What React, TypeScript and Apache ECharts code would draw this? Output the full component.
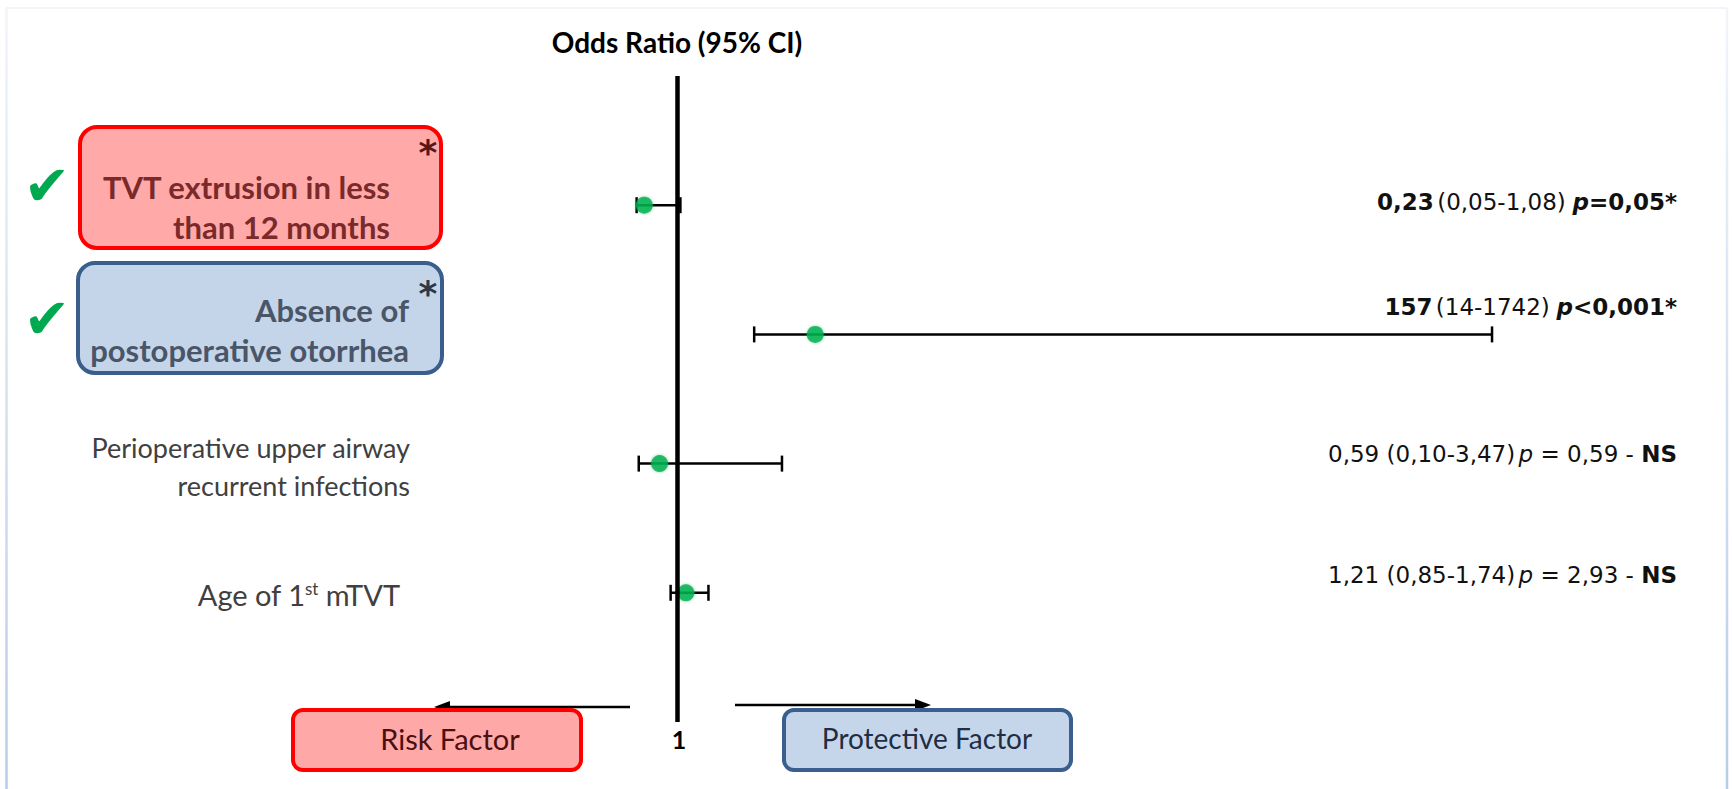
import { useEffect, useRef } from "react";
import * as echarts from "echarts";

// Forest plot data: odds ratios with 95% confidence intervals
const factors = [
  "TVT extrusion in less than 12 months",
  "Absence of postoperative otorrhea",
  "Perioperative upper airway recurrent infections",
  "Age of 1st mTVT",
];
const oddsRatio = [0.23, 157, 0.59, 1.21];
const ciLower = [0.05, 14, 0.1, 0.85];
const ciUpper = [1.08, 1742, 3.47, 1.74];
const pText = ["=0,05", "<0,001", "= 0,59", "= 2,93"];
const significant = [true, true, false, false];
const directionLabels = ["Risk Factor", "Protective Factor"];
const axisTitle = "Odds Ratio (95% CI)";
const nullValue = 1;

// Layout
const W = 1732;
const H = 789;
const FONT = 'Lato, "Open Sans", "Noto Sans", sans-serif';
const STATS_FONT = '"DejaVu Sans", Verdana, sans-serif';
const STATS_SIZE = 23;
const gridLeft = 600;
const gridWidth = 920;
const gridTop = 76;
const gridHeight = 646;
const nullX = 677;
// narrow scale (rows with small ratios)
const pxPerUnit = 42.5;
// stretched scale for rows whose interval runs into the thousands
const pxPerUnitWide = 0.427;
const wideZeroX = 748.2;
const statsRight = 1677;
const statsY = [202, 307, 454, 575];

const fmt = (v: number) => (v >= 10 ? String(v) : v.toFixed(2).replace(".", ","));

const rowIdx = factors.map((_, i) => i);
const isWide = (i: number) => ciUpper[i] > 100;
const narrowRows = rowIdx.filter((i) => !isWide(i));
const wideRows = rowIdx.filter((i) => isWide(i));

const statsText = (i: number) => {
  const or = fmt(oddsRatio[i]);
  const ci = `(${fmt(ciLower[i])}-${fmt(ciUpper[i])})`;
  if (significant[i]) return `{b|${or}} {r|${ci}}  {bi|p}{b|${pText[i]}*}`;
  return `{r|${or} ${ci}} {i|p}{r| ${pText[i]} - }{b|NS}`;
};

const renderCI = (_params: any, api: any) => {
  const lo = api.coord([api.value(0), api.value(1)]);
  const hi = api.coord([api.value(2), api.value(1)]);
  const style = { stroke: "#000", lineWidth: 2.5 };
  const cap = 8;
  return {
    type: "group",
    children: [
      { type: "line", shape: { x1: lo[0], y1: lo[1], x2: hi[0], y2: hi[1] }, style },
      { type: "line", shape: { x1: lo[0], y1: lo[1] - cap, x2: lo[0], y2: lo[1] + cap }, style },
      { type: "line", shape: { x1: hi[0], y1: hi[1] - cap, x2: hi[0], y2: hi[1] + cap }, style },
    ],
  };
};

const dotStyle = {
  color: "#00B050",
  shadowBlur: 3,
  shadowColor: "rgba(0,176,80,0.6)",
};

const statsRich = {
  b: { fontFamily: STATS_FONT, fontSize: STATS_SIZE, fontWeight: "bold", fill: "#111" },
  bi: { fontFamily: STATS_FONT, fontSize: STATS_SIZE, fontWeight: "bold", fontStyle: "italic", fill: "#111" },
  i: { fontFamily: STATS_FONT, fontSize: STATS_SIZE, fontStyle: "italic", fill: "#111" },
  r: { fontFamily: STATS_FONT, fontSize: STATS_SIZE, fill: "#111" },
};

const edgeGradient = (x: number) =>
  new echarts.graphic.LinearGradient(
    x, 8, x, H,
    [
      { offset: 0, color: "#F1F5FA" },
      { offset: 1, color: "#B7CCE8" },
    ],
    true
  );

function buildGraphic() {
  const els: any[] = [];
  // panel edges
  els.push({ type: "line", shape: { x1: 6, y1: 8, x2: 1727, y2: 8 }, style: { stroke: "#F1F5FA", lineWidth: 2 } });
  els.push({ type: "line", shape: { x1: 6.5, y1: 8, x2: 6.5, y2: H }, style: { stroke: edgeGradient(6.5), lineWidth: 2.5 } });
  els.push({ type: "line", shape: { x1: 1727, y1: 8, x2: 1727, y2: H }, style: { stroke: edgeGradient(1727), lineWidth: 2.5 } });

  // title
  els.push({
    type: "text", x: nullX, y: 42,
    style: { text: axisTitle, align: "center", verticalAlign: "middle", fontFamily: FONT, fontSize: 28, fontWeight: "bold", fill: "#000" },
  });

  // direction arrows
  els.push({ type: "line", shape: { x1: 630, y1: 707, x2: 446, y2: 707 }, style: { stroke: "#000", lineWidth: 2.5 } });
  els.push({ type: "polygon", shape: { points: [[434, 707], [450, 701], [450, 713]] }, style: { fill: "#000" } });
  els.push({ type: "line", shape: { x1: 735, y1: 705, x2: 919, y2: 705 }, style: { stroke: "#000", lineWidth: 2.5 } });
  els.push({ type: "polygon", shape: { points: [[931, 705], [915, 699], [915, 711]] }, style: { fill: "#000" } });

  // direction boxes
  els.push({ type: "rect", shape: { x: 293, y: 710, width: 288, height: 60, r: 10 }, style: { fill: "#FFA8A8", stroke: "#FF0000", lineWidth: 4 } });
  els.push({
    type: "text", x: 450, y: 738,
    style: { text: directionLabels[0], align: "center", verticalAlign: "middle", fontFamily: FONT, fontSize: 29, fill: "#4A0F0F" },
  });
  els.push({ type: "rect", shape: { x: 784, y: 710, width: 287, height: 60, r: 10 }, style: { fill: "#C5D6EB", stroke: "#3A5F8F", lineWidth: 4 } });
  els.push({
    type: "text", x: 927, y: 738,
    style: { text: directionLabels[1], align: "center", verticalAlign: "middle", fontFamily: FONT, fontSize: 28, fill: "#1F2E44" },
  });
  els.push({
    type: "text", x: 679, y: 739,
    style: { text: String(nullValue), align: "center", verticalAlign: "middle", fontFamily: FONT, fontSize: 25, fontWeight: "bold", fill: "#000" },
  });

  // highlighted factor boxes
  els.push({ type: "rect", shape: { x: 80, y: 127, width: 361, height: 121, r: 17 }, style: { fill: "#FFA9A9", stroke: "#FF0000", lineWidth: 4 } });
  els.push({ type: "rect", shape: { x: 78, y: 263, width: 364, height: 110, r: 17 }, style: { fill: "#C4D5EA", stroke: "#3A5E8C", lineWidth: 4 } });

  const boxLines = [
    { lines: ["TVT extrusion in less", "than 12 months"], right: 390, ys: [187, 227], fill: "#7A2A2A" },
    { lines: ["Absence of", "postoperative otorrhea"], right: 409, ys: [310, 350], fill: "#4A5567" },
  ];
  boxLines.forEach((b) =>
    b.lines.forEach((t, k) =>
      els.push({
        type: "text", x: b.right, y: b.ys[k],
        style: { text: t, align: "right", verticalAlign: "middle", fontFamily: FONT, fontSize: 31, fontWeight: "bold", fill: b.fill },
      })
    )
  );
  // asterisks
  els.push({ type: "text", x: 428, y: 152, style: { text: "*", align: "center", verticalAlign: "middle", fontFamily: '"DejaVu Sans"', fontSize: 36, fontWeight: "bold", fill: "#5A1616" } });
  els.push({ type: "text", x: 428, y: 293, style: { text: "*", align: "center", verticalAlign: "middle", fontFamily: '"DejaVu Sans"', fontSize: 36, fontWeight: "bold", fill: "#2C3848" } });
  // check marks
  [185, 318].forEach((y) =>
    els.push({ type: "text", x: 47, y, style: { text: "\u2714", align: "center", verticalAlign: "middle", fontFamily: '"DejaVu Sans"', fontSize: 56, fill: "#00A94F" } })
  );

  // plain factor labels
  els.push({ type: "text", x: 410, y: 447, style: { text: "Perioperative upper airway", align: "right", verticalAlign: "middle", fontFamily: FONT, fontSize: 27, fill: "#404040" } });
  els.push({ type: "text", x: 410, y: 485, style: { text: "recurrent infections", align: "right", verticalAlign: "middle", fontFamily: FONT, fontSize: 27, fill: "#404040" } });
  els.push({
    type: "text", x: 400, y: 594,
    style: {
      text: "{n|Age of 1}{s|st}{n| mTVT}",
      align: "right", verticalAlign: "middle",
      rich: {
        n: { fontFamily: FONT, fontSize: 29, fill: "#404040" },
        s: { fontFamily: FONT, fontSize: 17, fill: "#404040", verticalAlign: "top" },
      },
    },
  });

  // statistics column
  rowIdx.forEach((i) =>
    els.push({
      type: "text", x: statsRight, y: statsY[i],
      style: { text: statsText(i), align: "right", verticalAlign: "middle", rich: statsRich },
    })
  );
  return els;
}

const option = {
  animation: false,
  backgroundColor: "#fff",
  grid: { left: gridLeft, top: gridTop, width: gridWidth, height: gridHeight, containLabel: false },
  xAxis: [
    {
      type: "value",
      min: nullValue - (nullX - gridLeft) / pxPerUnit,
      max: nullValue - (nullX - gridLeft) / pxPerUnit + gridWidth / pxPerUnit,
      show: false,
    },
    {
      type: "value",
      min: (gridLeft - wideZeroX) / pxPerUnitWide,
      max: (gridLeft + gridWidth - wideZeroX) / pxPerUnitWide,
      show: false,
    },
  ],
  yAxis: { type: "value", min: -1, max: factors.length, inverse: true, show: false },
  series: [
    {
      type: "custom",
      xAxisIndex: 0,
      renderItem: renderCI,
      encode: { x: [0, 2], y: 1 },
      data: narrowRows.map((i) => [ciLower[i], i, ciUpper[i]]),
      z: 2,
      markLine: {
        silent: true,
        symbol: "none",
        label: { show: false },
        lineStyle: { color: "#000", width: 4.5, type: "solid" },
        data: [{ xAxis: nullValue }],
      },
    },
    {
      type: "custom",
      xAxisIndex: 1,
      renderItem: renderCI,
      encode: { x: [0, 2], y: 1 },
      data: wideRows.map((i) => [ciLower[i], i, ciUpper[i]]),
      z: 2,
    },
    {
      type: "scatter",
      xAxisIndex: 0,
      symbolSize: 17,
      itemStyle: dotStyle,
      data: narrowRows.map((i) => [oddsRatio[i], i]),
      z: 3,
    },
    {
      type: "scatter",
      xAxisIndex: 1,
      symbolSize: 17,
      itemStyle: dotStyle,
      data: wideRows.map((i) => [oddsRatio[i], i]),
      z: 3,
    },
  ],
  graphic: { elements: buildGraphic() },
};

export default function App() {
  const ref = useRef<HTMLDivElement>(null);
  useEffect(() => {
    const chart = echarts.init(ref.current!, undefined, { renderer: "svg" });
    chart.setOption(option as any);
    return () => chart.dispose();
  }, []);
  return (
    <div
      ref={ref}
      style={{ position: "fixed", left: 0, top: 0, width: W, height: H, background: "#fff" }}
    />
  );
}
